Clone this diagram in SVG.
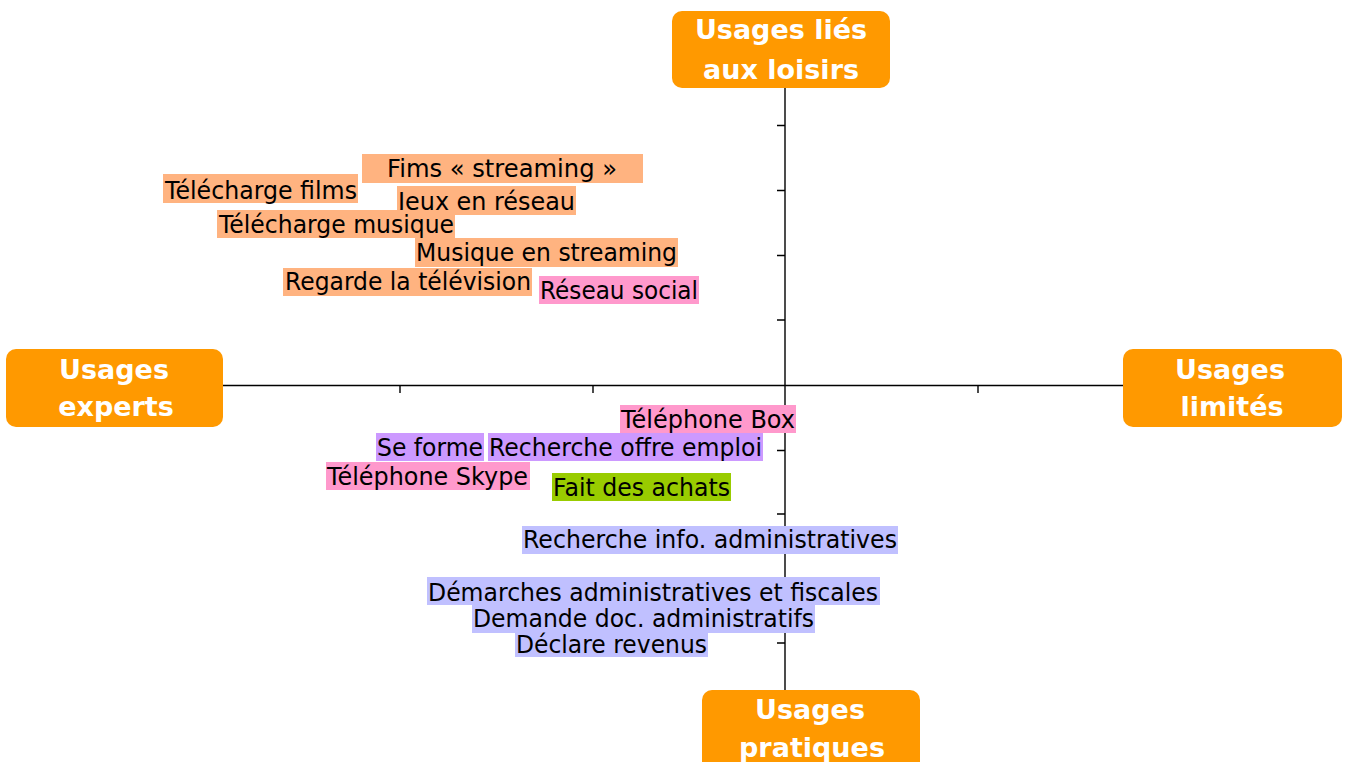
<svg xmlns="http://www.w3.org/2000/svg" width="1346" height="762" viewBox="0 0 1346 762">
<style>
.axis{stroke:#000;stroke-width:1.4;fill:none}
.hub rect{fill:#FF9900}
.hub text{font-family:"DejaVu Sans","Liberation Sans",sans-serif;font-weight:bold;font-size:27px;fill:#fff;text-anchor:middle}
.lbl text{font-family:"DejaVu Sans","Liberation Sans",sans-serif;font-size:24px;fill:#000}
.or{fill:#FFB380}.pk{fill:#FF99CC}.pu{fill:#CC99FF}.gr{fill:#99CC00}.lv{fill:#C0C0FF}
</style>
<rect width="1346" height="762" fill="#fff"/>
<g id="connectors">
<path class="axis" d="M785 88V690M223 385.5H1123"/>
<path class="axis" d="M777 125.5H785M777 190.5H785M777 255.5H785M777 320H785M777 450.5H785M777 514H785M777 578H785M777 643H785"/>
<path class="axis" d="M400 385.5V393M593 385.5V393M978 385.5V393"/>
</g>
<g id="hub-loisirs" class="hub"><rect x="672" y="11" width="218" height="77" rx="10"/><text x="781" y="39">Usages liés</text><text x="781" y="79">aux loisirs</text></g>
<g id="hub-experts" class="hub"><rect x="6" y="349" width="217" height="78" rx="10"/><text x="114" y="379">Usages</text><text x="116" y="416">experts</text></g>
<g id="hub-limites" class="hub"><rect x="1123" y="349" width="219" height="78" rx="10"/><text x="1230" y="379">Usages</text><text x="1232" y="416">limités</text></g>
<g id="hub-pratiques" class="hub"><rect x="702" y="690" width="218" height="90" rx="10"/><text x="810" y="719">Usages</text><text x="812" y="757">pratiques</text></g>
<g class="lbl">
<g id="l1"><rect class="or" x="362" y="154" width="281" height="29"/><text x="387" y="177" textLength="230" lengthAdjust="spacingAndGlyphs">Fims « streaming »</text></g>
<g id="l2"><rect class="or" x="163" y="174" width="195" height="29"/><text x="165" y="199" textLength="192" lengthAdjust="spacingAndGlyphs">Télécharge films</text></g>
<g id="l3"><rect class="or" x="397" y="186" width="179" height="29"/><text x="398" y="210" textLength="177" lengthAdjust="spacingAndGlyphs">Jeux en réseau</text></g>
<g id="l4"><rect class="or" x="217" y="210" width="238" height="28"/><text x="219" y="233" textLength="235" lengthAdjust="spacingAndGlyphs">Télécharge musique</text></g>
<g id="l5"><rect class="or" x="415" y="238" width="263" height="29"/><text x="416" y="261" textLength="261" lengthAdjust="spacingAndGlyphs">Musique en streaming</text></g>
<g id="l6"><rect class="or" x="283" y="268" width="249" height="28"/><text x="285" y="290" textLength="246" lengthAdjust="spacingAndGlyphs">Regarde la télévision</text></g>
<g id="l7"><rect class="pk" x="539" y="276" width="160" height="28"/><text x="540" y="299" textLength="158" lengthAdjust="spacingAndGlyphs">Réseau social</text></g>
<g id="l8"><rect class="pk" x="620" y="405" width="176" height="28"/><text x="621" y="428" textLength="174" lengthAdjust="spacingAndGlyphs">Téléphone Box</text></g>
<g id="l9"><rect class="pu" x="376" y="433" width="108" height="28"/><text x="377" y="456" textLength="106" lengthAdjust="spacingAndGlyphs">Se forme</text></g>
<g id="l10"><rect class="pu" x="488" y="433" width="275" height="28"/><text x="489" y="456" textLength="273" lengthAdjust="spacingAndGlyphs">Recherche offre emploi</text></g>
<g id="l11"><rect class="pk" x="326" y="462" width="204" height="28"/><text x="327" y="485" textLength="201" lengthAdjust="spacingAndGlyphs">Téléphone Skype</text></g>
<g id="l12"><rect class="gr" x="552" y="473" width="179" height="28"/><text x="553" y="496" textLength="177" lengthAdjust="spacingAndGlyphs">Fait des achats</text></g>
<g id="l13"><rect class="lv" x="522" y="526" width="376" height="28"/><text x="523" y="548" textLength="374" lengthAdjust="spacingAndGlyphs">Recherche info. administratives</text></g>
<g id="l14"><rect class="lv" x="427" y="577" width="453" height="28"/><text x="428" y="601" textLength="450" lengthAdjust="spacingAndGlyphs">Démarches administratives et fiscales</text></g>
<g id="l15"><rect class="lv" x="472" y="605" width="343" height="28"/><text x="473" y="626.5" textLength="341" lengthAdjust="spacingAndGlyphs">Demande doc. administratifs</text></g>
<g id="l16"><rect class="lv" x="515" y="633" width="193" height="24"/><text x="516" y="653" font-size="23.5" textLength="191" lengthAdjust="spacingAndGlyphs">Déclare revenus</text></g>
</g>
</svg>
